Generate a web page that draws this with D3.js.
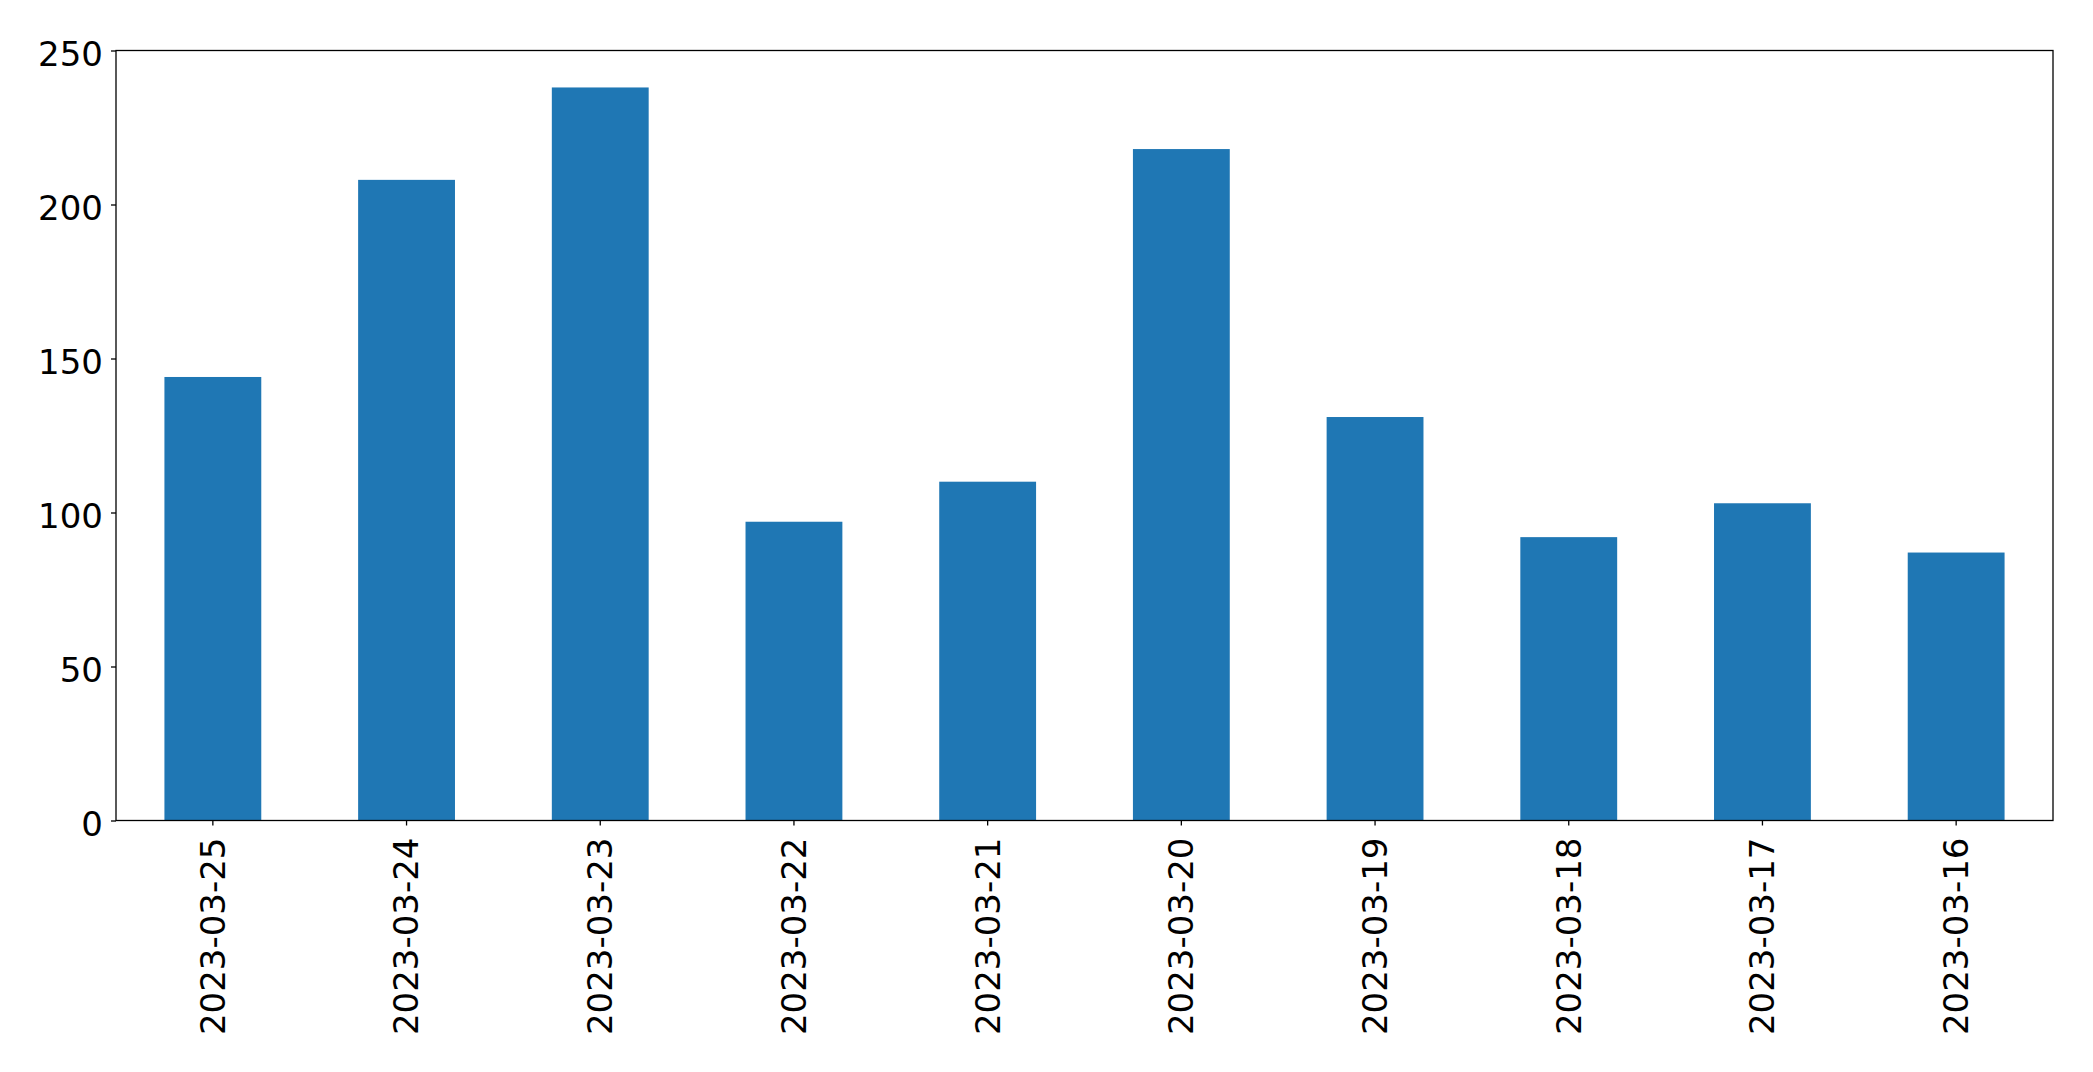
<!DOCTYPE html>
<html>
<head>
<meta charset="utf-8">
<script src="https://cdn.jsdelivr.net/npm/d3@7"></script>
<style>
  html, body { margin: 0; padding: 0; background: #fff; }
  svg { display: block; }
</style>
</head>
<body>
<svg id="chart" width="2093" height="1072"></svg>
<script>
const categories = ["2023-03-25","2023-03-24","2023-03-23","2023-03-22","2023-03-21","2023-03-20","2023-03-19","2023-03-18","2023-03-17","2023-03-16"];
const values = [144, 208, 238, 97, 110, 218, 131, 92, 103, 87];
const yTicks = [0, 50, 100, 150, 200, 250];

const W = 2093, H = 1072;
const margin = { left: 116, right: 2093 - 2053, top: 50.5, bottom: 1072 - 820.5 };
const svg = d3.select("#chart");
const font = "DejaVu Sans, sans-serif";
const fontSize = 34;

const x = d3.scaleBand().domain(categories).range([margin.left, W - margin.right]).paddingInner(0.5).paddingOuter(0.25);
const y = d3.scaleLinear().domain([0, 250]).range([H - margin.bottom, margin.top]);

svg.append("g").selectAll("rect").data(values).join("rect")
  .attr("x", (d, i) => x(categories[i]))
  .attr("y", d => y(d))
  .attr("width", x.bandwidth())
  .attr("height", d => y(0) - y(d))
  .attr("fill", "#1f77b4");

// frame
svg.append("rect")
  .attr("x", margin.left).attr("y", margin.top)
  .attr("width", W - margin.right - margin.left)
  .attr("height", H - margin.bottom - margin.top)
  .attr("fill", "none").attr("stroke", "#000").attr("stroke-width", 1.3);

const yAxis = svg.append("g")
  .attr("transform", `translate(${margin.left},0)`)
  .call(d3.axisLeft(y).tickValues(yTicks).tickFormat(d3.format("d")).tickSize(5).tickPadding(8));
yAxis.select(".domain").remove();
yAxis.selectAll("line").attr("stroke", "#000").attr("stroke-width", 1.3);
yAxis.selectAll("text").attr("font-family", font).attr("font-size", fontSize).attr("fill", "#000").attr("dy", "0.45em");

const xAxis = svg.append("g")
  .attr("transform", `translate(0,${H - margin.bottom})`)
  .call(d3.axisBottom(x).tickSize(5).tickPadding(8));
xAxis.select(".domain").remove();
xAxis.selectAll("line").attr("stroke", "#000").attr("stroke-width", 1.3);
xAxis.selectAll("text")
  .attr("font-family", font).attr("font-size", fontSize).attr("fill", "#000")
  .attr("transform", "rotate(-90)")
  .attr("text-anchor", "end")
  .attr("x", -17)
  .attr("y", 0)
  .attr("dy", "0.35em");
</script>
</body>
</html>
